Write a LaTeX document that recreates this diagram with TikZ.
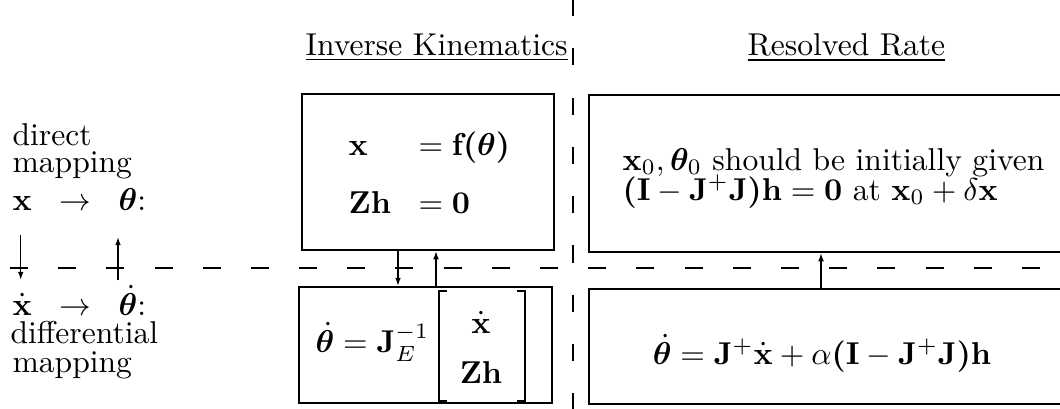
\documentclass[tikz,border=0pt]{standalone}
\usepackage{amsmath,bm}
\usetikzlibrary{arrows.meta,calc,fit}
\begin{document}
\begin{tikzpicture}[x=0.3165pt,y=-0.3165pt,
  box/.style={draw,line width=0.65pt,inner sep=0pt},
  arr/.style={-{Latex[length=2.6pt,width=1.8pt]},line width=0.45pt},
  lbl/.style={anchor=base west,inner sep=0pt},
  cbl/.style={anchor=base,inner sep=0pt},
  hdiv/.style={line width=0.45pt,dash pattern=on 5.7pt off 9.55pt},
  vdiv/.style={line width=0.45pt,dash pattern=on 5.4pt off 10.2pt},
  brk/.style={line width=0.75pt}]
\useasboundingbox (0,0) rectangle (1060,408);
\clip (0,0) rectangle (1060,408);

% dashed dividers
\coordinate (hl) at (10,268);
\coordinate (hr) at (1070,268);
\coordinate (vt) at (573,-1);
\coordinate (vb) at (573,410);
\draw[hdiv] (hl) -- (hr);
\draw[vdiv] (vt) -- (vb);

% titles
\node[lbl] (tik) at (305,55) {\underline{Inverse Kinematics}};
\node[lbl] (trr) at (747,55) {\underline{Resolved Rate}};

% left labels
\node[lbl] (d1) at (12,145) {direct};
\node[lbl] (d2) at (12,172) {mapping};
\node[lbl] (xa) at (12,210) {$\mathbf{x}$};
\node[lbl] (ara) at (59,210) {$\rightarrow$};
\node[lbl] (tha) at (118,210) {$\bm{\theta}\mathbf{:}$};
\node[lbl] (xd) at (12,315) {$\dot{\mathbf{x}}$};
\node[lbl] (ard) at (59,315) {$\rightarrow$};
\node[lbl] (thd) at (118,315) {$\dot{\bm{\theta}}\mathbf{:}$};
\node[lbl] (d3) at (10,343) {differential};
\node[lbl] (d4) at (12,372) {mapping};
\draw[arr] ($(xa.base)+(-1.5,25)$) -- ($(xd.base)+(-1.5,-35)$);
\draw[arr] ($(thd.base west)+(0,-35)$) -- ($(tha.base west)+(0,27)$);

% boxes
\node[box,fit={(302,94) (554,250)}] (ikt) {};
\node[box,fit={(299,287) (552,403)}] (ikb) {};
\node[box,fit={(589,95) (1075,252)}] (rrt) {};
\node[box,fit={(589,289) (1075,404)}] (rrb) {};

% IK top equations
\node[lbl] (e1a) at (348,155) {$\mathbf{x}$};
\node[lbl] (e1b) at (418,155) {$=\mathbf{f}\bm{(}\bm{\theta}\bm{)}$};
\node[lbl] (e2a) at (348,213) {$\mathbf{Zh}$};
\node[lbl] (e2b) at (418,213) {$=\mathbf{0}$};

% IK bottom equation
\node[lbl] (e3) at (315,352) {$\dot{\bm{\theta}}=\mathbf{J}_{E}^{-1}$};
\node[cbl] (e4a) at (481,333) {$\dot{\mathbf{x}}$};
\node[cbl] (e4b) at (481,383) {$\mathbf{Zh}$};
\draw[brk] (447,291) -- (439,291) -- (439,401) -- (447,401);
\draw[brk] (517,291) -- (525,291) -- (525,401) -- (517,401);

% RR texts
\node[lbl] (r1) at (622,170) {$\mathbf{x}_0,\bm{\theta}_0$ should be initially given};
\node[lbl] (r2) at (622,200) {$\bm{(}\mathbf{I}-\mathbf{J}^{+}\mathbf{J}\bm{)}\mathbf{h}=\mathbf{0}$ at $\mathbf{x}_0+\delta\mathbf{x}$};
\node[cbl] (r3) at (822,364) {$\dot{\bm{\theta}}=\mathbf{J}^{+}\dot{\mathbf{x}}+\alpha\bm{(}\mathbf{I}-\mathbf{J}^{+}\mathbf{J}\bm{)}\mathbf{h}$};

% connectors between boxes
\coordinate (c1) at (398,0);
\coordinate (c2) at (436,0);
\coordinate (c3) at (821,0);
\draw[arr] (ikt.south -| c1) -- (ikb.north -| c1);
\draw[arr] (ikb.north -| c2) -- (ikt.south -| c2);
\draw[arr] (rrb.north -| c3) -- (rrt.south -| c3);
\end{tikzpicture}
\end{document}
